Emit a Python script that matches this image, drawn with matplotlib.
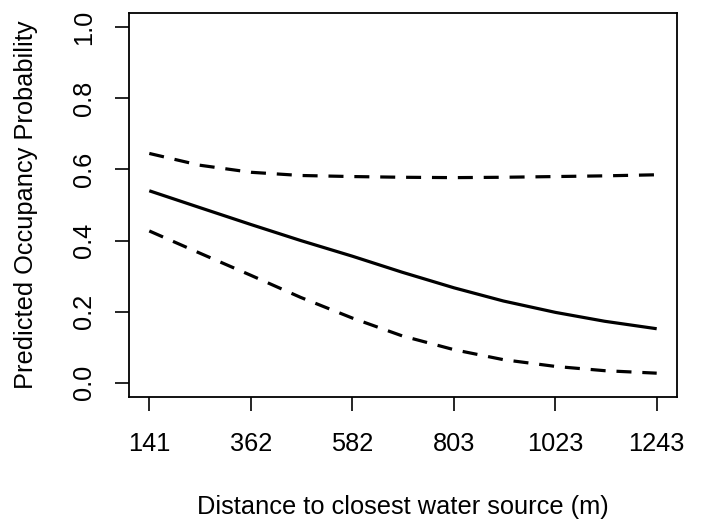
import matplotlib
matplotlib.use("Agg")
import matplotlib.pyplot as plt
import numpy as np

# Data
distance = [141, 250, 362, 470, 582, 690, 803, 910, 1023, 1130, 1243]
predicted = [0.540, 0.493, 0.445, 0.400, 0.356, 0.311, 0.267, 0.230, 0.198, 0.173, 0.152]
upper_ci = [0.645, 0.612, 0.592, 0.583, 0.580, 0.578, 0.577, 0.578, 0.580, 0.582, 0.585]
lower_ci = [0.427, 0.365, 0.302, 0.240, 0.182, 0.132, 0.093, 0.065, 0.046, 0.034, 0.027]
xtick_vals = [141, 361.4, 581.8, 802.2, 1022.6, 1243]
xtick_labels = ["141", "362", "582", "803", "1023", "1243"]
ytick_vals = [0.0, 0.2, 0.4, 0.6, 0.8, 1.0]

plt.rcParams['font.family'] = ['Liberation Sans', 'DejaVu Sans']

fig = plt.figure(figsize=(7.01, 5.27), dpi=100)
ax = fig.add_axes([129/701, 1-397/527, (677-129)/701, (397-13)/527])

ax.plot(distance, predicted, color='black', lw=2.3, solid_capstyle='butt')
ax.plot(distance, upper_ci, color='black', lw=2.3, dashes=(4.7, 3.4), dash_capstyle='butt')
ax.plot(distance, lower_ci, color='black', lw=2.3, dashes=(4.7, 3.4), dash_capstyle='butt')

xr = 1243 - 141
ax.set_xlim(141 - 0.04*xr, 1243 + 0.04*xr)
ax.set_ylim(-0.04, 1.04)

ax.set_xticks(xtick_vals)
ax.set_xticklabels(xtick_labels)
ax.set_yticks(ytick_vals)
ax.set_yticklabels([f"{v:.1f}" for v in ytick_vals], rotation=90, va='center')

ax.tick_params(axis='both', direction='out', length=10, width=1.2, labelsize=18.3, colors='black')
ax.tick_params(axis='x', pad=15.5)
ax.tick_params(axis='y', pad=13.5)
for s in ax.spines.values():
    s.set_linewidth(1.3)

ax.set_xlabel("Distance to closest water source (m)", fontsize=18.3, labelpad=28)
ax.set_ylabel("Predicted Occupancy Probability", fontsize=18.3, labelpad=25)

fig.savefig("out.png", dpi=100)
